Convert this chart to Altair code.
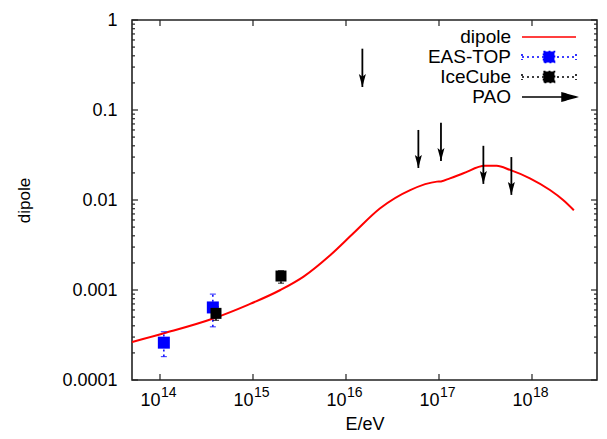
import altair as alt
import pandas as pd

# ---- data ----
curve_E = [5e13, 1.1e14, 3.8e14, 8.7e14, 1.97e15, 3.5e15, 6.8e15, 1.2e16, 2.33e16,
           4.9e16, 9.5e16, 1.05e17, 1.31e17, 1.83e17, 3.1e17, 4.17e17, 5.8e17,
           9.5e17, 1.56e18, 2.16e18, 2.82e18]
curve_d = [2.64e-4, 3.30e-4, 4.85e-4, 6.8e-4, 1.0e-3, 1.41e-3, 2.45e-3, 4.27e-3, 8.1e-3,
           1.29e-2, 1.6e-2, 1.61e-2, 1.74e-2, 1.98e-2, 2.4e-2, 2.4e-2, 2.16e-2,
           1.74e-2, 1.29e-2, 1.0e-2, 7.7e-3]

eas_E = [1.1e14, 3.7e14]
eas_d = [2.6e-4, 6.4e-4]
eas_lo = [1.82e-4, 3.9e-4]
eas_hi = [3.44e-4, 9.0e-4]

ice_E = [4.0e14, 2.0e15]
ice_d = [5.5e-4, 1.43e-3]
ice_lo = [4.6e-4, 1.19e-3]
ice_hi = [6.5e-4, 1.64e-3]

pao_E = [1.5e16, 6.0e16, 1.05e17, 3.0e17, 6.0e17]
pao_limit = [0.48, 0.060, 0.072, 0.040, 0.030]
pao_tip = [0.18, 0.0227, 0.0271, 0.0151, 0.0114]

series = ["dipole", "EAS-TOP", "IceCube", "PAO"]
series_colors = ["#ff0000", "#0000ff", "#000000", "#000000"]

x_ticks = [1e14, 1e15, 1e16, 1e17, 1e18]
x_exp = ["14", "15", "16", "17", "18"]
y_ticks = [1e-4, 1e-3, 1e-2, 1e-1, 1.0]
y_minor = [m * d for d in [1e-4, 1e-3, 1e-2, 1e-1] for m in range(2, 10)]

# ---- tables ----
curve_df = pd.DataFrame({"E": curve_E, "d": curve_d, "series": "dipole"})
pts_df = pd.DataFrame({
    "E": eas_E + ice_E,
    "d": eas_d + ice_d,
    "lo": eas_lo + ice_lo,
    "hi": eas_hi + ice_hi,
    "series": ["EAS-TOP"] * len(eas_E) + ["IceCube"] * len(ice_E),
})
eas_df = pts_df[pts_df.series == "EAS-TOP"]
ice_df = pts_df[pts_df.series == "IceCube"]
pao_df = pd.DataFrame({"E": pao_E, "d": pao_limit, "tip": pao_tip, "series": "PAO"})
xt_df = pd.DataFrame({"E": x_ticks, "exp": x_exp})
yt_df = pd.DataFrame({"d": y_ticks})
ym_df = pd.DataFrame({"d": y_minor})
leg_df = pd.DataFrame({"E": pd.Series([], dtype=float), "d": pd.Series([], dtype=float),
                       "series": pd.Series([], dtype=str)})

W, H = 465, 360
FONT = "Liberation Sans"
LEG_FS = 19

XS = alt.Scale(type="log", domain=[5e13, 5e18], nice=False)
YS = alt.Scale(type="log", domain=[1e-4, 1], nice=False)

X_AX = alt.Axis(values=x_ticks, labelExpr="'10'", labelAlign="right", title="E/eV",
                grid=False, ticks=False, tickSize=0, domain=False, labelFont=FONT,
                labelFontSize=18, labelColor="#000", labelPadding=11, titleFont=FONT,
                titleFontSize=18, titleFontWeight="normal", titleColor="#000",
                titlePadding=6, labelFlush=False, labelOverlap=False)
Y_AX = alt.Axis(values=y_ticks, format="~g", title="dipole", grid=False, ticks=False,
                tickSize=0, domain=False, labelFont=FONT, labelFontSize=18,
                labelColor="#000", labelPadding=15, titleFont=FONT, titleFontSize=17,
                titleFontWeight="normal", titleColor="#000", titlePadding=28,
                labelFlush=False, labelOverlap=False)


def xe(f="E"):
    return alt.X(f"{f}:Q", scale=XS, axis=X_AX)


def ye(f="d"):
    return alt.Y(f"{f}:Q", scale=YS, axis=Y_AX)


S = 18.0  # legend symbol "size" (px); path units are S/2 = 9 px
err_path = "M-3,0H3M-3,-0.33V0.33M3,-0.33V0.33M-0.61,-0.61H0.61V0.61H-0.61Z"
leg_shapes = ["M-3,0H3", err_path, err_path, "M-3,0H1.6M1.45,-0.44L3,0L1.45,0.44Z"]
leg_dash = [[1, 0], [2, 3], [2, 3], [1, 0]]

LEG = alt.Legend(
    orient="none", legendX=407, legendY=7, title=None, padding=0,
    labelAlign="right", labelOffset={"expr": "-48"}, labelFont=FONT, labelFontSize=LEG_FS,
    labelColor="#000", symbolSize=S * S, rowPadding=0, labelLimit=300,
    symbolStrokeWidth=1.6, symbolOpacity=1,
)
SD = alt.Scale(domain=series, range=series_colors)
COLOR = alt.Color("series:N", scale=SD, legend=LEG)

curve = alt.Chart(curve_df).mark_line(strokeWidth=2, interpolate="monotone", clip=True).encode(
    x=xe(), y=ye(), color=COLOR)

err = alt.Chart(pts_df).mark_rule(strokeWidth=1.5, strokeDash=[2, 3]).encode(
    x=xe(), y=ye("lo"), y2="hi:Q", color=COLOR)
cap_lo = alt.Chart(pts_df).mark_tick(orient="horizontal", size=6, thickness=1.2).encode(
    x=xe(), y=ye("lo"), color=COLOR)
cap_hi = alt.Chart(pts_df).mark_tick(orient="horizontal", size=6, thickness=1.2).encode(
    x=xe(), y=ye("hi"), color=COLOR)
sq_eas = alt.Chart(eas_df).mark_square(size=144, opacity=1, filled=True).encode(
    x=xe(), y=ye(), color=COLOR)
sq_ice = alt.Chart(ice_df).mark_square(size=121, opacity=1, filled=True).encode(
    x=xe(), y=ye(), color=COLOR)

arrow_line = alt.Chart(pao_df).mark_rule(strokeWidth=1.8).encode(
    x=xe(), y=ye(), y2="tip:Q", color=COLOR)
arrow_head = alt.Chart(pao_df).mark_point(
    shape="M0,0L-0.27,-1L0,-0.8L0.27,-1Z", size=676, filled=True, opacity=1).encode(
    x=xe(), y=ye("tip"), color=COLOR)

# legend-only layer (no rows): supplies per-entry symbol shapes, fills and dashes
leg_layer = alt.Chart(leg_df).mark_point(filled=False, opacity=1, size=S * S,
                                         strokeWidth=1.6).encode(
    x=xe(), y=ye(), color=COLOR,
    fill=alt.Fill("series:N", scale=SD, legend=LEG),
    shape=alt.Shape("series:N", scale=alt.Scale(domain=series, range=leg_shapes), legend=LEG),
    strokeDash=alt.StrokeDash("series:N", scale=alt.Scale(domain=series, range=leg_dash),
                              legend=LEG),
)

# exponent part of the 10^n tick labels
exps = alt.Chart(xt_df).mark_text(align="left", baseline="alphabetic", dx=1, dy=17,
                                  font=FONT, fontSize=14, color="#000").encode(
    x=xe(), y=alt.value(H), text="exp:N")

# inward gnuplot-style ticks
tk = dict(color="#222", strokeWidth=1.2)
bt = alt.Chart(xt_df).mark_rule(**tk).encode(x=xe(), y=alt.value(H), y2=alt.value(H - 6))
tt = alt.Chart(xt_df).mark_rule(**tk).encode(x=xe(), y=alt.value(0), y2=alt.value(6))
lt = alt.Chart(yt_df).mark_rule(**tk).encode(y=ye(), x=alt.value(0), x2=alt.value(6))
rt = alt.Chart(yt_df).mark_rule(**tk).encode(y=ye(), x=alt.value(W), x2=alt.value(W - 6))
lm = alt.Chart(ym_df).mark_rule(**tk).encode(y=ye(), x=alt.value(0), x2=alt.value(3))
rm = alt.Chart(ym_df).mark_rule(**tk).encode(y=ye(), x=alt.value(W), x2=alt.value(W - 3))

chart = alt.layer(
    leg_layer, bt, tt, lt, rt, lm, rm, exps,
    curve, err, cap_lo, cap_hi, sq_eas, sq_ice, arrow_line, arrow_head,
).properties(
    width=W, height=H,
    padding={"left": 132, "top": 20, "right": 10, "bottom": 59},
    autosize=alt.AutoSizeParams(type="none"),
    background="white",
).configure_view(
    stroke="#222", strokeWidth=1.6
).configure_legend(
    labelFont=FONT, labelFontSize=LEG_FS, labelColor="#000"
)

chart.save("out.html", embed_options={"renderer": "svg", "actions": False})
